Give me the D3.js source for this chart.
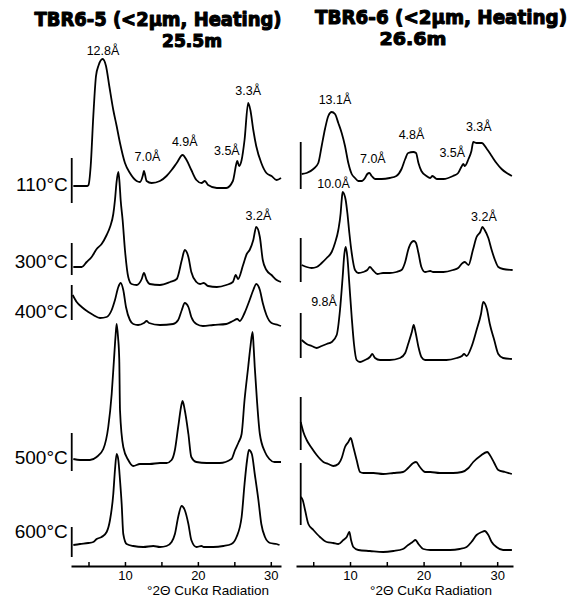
<!DOCTYPE html>
<html>
<head>
  <style>
    body { margin: 0; background: #fff; }
    svg text { font-family: "Liberation Sans", Arial, sans-serif; fill: #000; }
    .title { font-family: "DejaVu Sans", sans-serif; font-weight: bold; stroke: #000; stroke-width: 1.1; stroke-linejoin: round; }
  </style>
</head>
<body>
  <svg id="chart" width="578" height="605"></svg>
  <script src="https://d3js.org/d3.v7.min.js"></script>
  <script>
    // x ticks (degrees 2-theta) and their labels
    const tickValues = [5, 10, 15, 20, 25, 30];
    const tickLabels = ['', '10', '', '20', '', '30'];
    const axisTitle = '°2Θ CuKα Radiation';

    const tempLabels = ['110°C', '300°C', '400°C', '500°C', '600°C'];
    const leftTitle = ['TBR6-5 (<2µm, Heating)', '25.5m'];
    const rightTitle = ['TBR6-6 (<2µm, Heating)', '26.6m'];

    // stacking offset of each pattern (intensity units above the axis)
    const leftOffsets = [378, 279, 240, 99, 19];
    const rightOffsets = [385, 292, 204, 92, 14];

    // intensity scale bars drawn at the start of each pattern [low, high]
    const leftScaleBars = [[-15, 30], [12, 44], [6, 41], [-4, 34], [-10, 20]];
    const rightScaleBars = [[-8, 39], [-8, 36], [4, 49], [24, 77], [27, 89]];

    // TBR6-5 patterns, [2theta, intensity]
    const left110 = [[2.92,2],[4.84,2],[5.0,3],[5.3,22],[5.66,72],[6.03,112],[6.4,123],[6.94,129],[7.4,122],[7.85,102],[8.4,78],[8.86,62],[9.32,45],[10.0,25],[10.68,15],[11.6,7],[12.05,6],[12.47,13],[12.6,17],[12.97,7],[13.65,5],[14.8,7],[15.7,12],[16.4,18],[17.1,25],[17.9,33],[18.45,28],[19.1,18],[19.8,8],[20.5,5],[20.96,7],[21.4,3],[22.6,0],[23.9,0],[24.8,7],[25.3,25],[25.4,27],[25.66,22],[26.0,28],[26.4,48],[26.9,85],[27.2,78],[27.6,58],[28.0,42],[28.7,25],[29.4,15],[30.1,12],[30.8,8],[31.4,10]];
    const left300 = [[2.92,20],[4.07,20],[4.75,25],[5.43,30],[6.12,38],[6.8,43],[7.49,52],[7.95,60],[8.4,73],[8.63,87],[8.85,105],[9.09,115],[9.25,105],[9.41,87],[9.68,67],[10.0,37],[10.45,10],[10.9,3],[11.6,2],[12.3,8],[12.6,14],[12.97,7],[13.4,3],[14.8,2],[16.2,5],[17.1,8],[17.8,27],[18.2,37],[18.7,30],[19.1,15],[19.8,5],[20.3,3],[20.8,4],[21.4,1],[22.6,0],[23.9,2],[24.8,5],[25.2,12],[25.5,8],[26.2,22],[26.7,33],[27.1,37],[27.6,47],[28.0,60],[28.5,50],[28.9,27],[29.4,17],[30.1,12],[30.8,7],[31.4,5]];
    const left400 = [[2.83,31],[3.38,24],[4.07,19],[4.98,14],[5.66,11],[6.58,8],[7.49,9],[8.18,16],[8.63,26],[9.09,39],[9.41,43],[9.77,36],[10.14,19],[10.68,6],[11.14,2],[11.8,1],[12.6,3],[12.97,5],[13.3,3],[14.8,1],[16.6,2],[17.3,6],[17.8,16],[18.2,23],[18.7,19],[19.1,9],[19.8,2],[20.7,0],[22.1,1],[23.9,2],[24.8,5],[25.4,7],[25.75,5],[26.4,13],[27.1,26],[27.6,36],[28.0,42],[28.5,36],[28.9,23],[29.4,11],[30.1,3],[31.0,1],[31.4,0]];
    const left500 = [[2.92,8],[3.84,7],[5.2,7],[6.12,10],[7.03,18],[7.71,40],[8.18,73],[8.49,107],[8.7,130],[8.86,143],[9.05,130],[9.22,107],[9.32,57],[9.77,20],[10.45,7],[11.14,1],[12.05,3],[13.4,3],[14.8,4],[15.7,4],[16.4,7],[16.85,17],[17.3,40],[17.77,63],[17.9,66],[18.2,57],[18.7,33],[19.1,10],[19.8,5],[21.2,4],[23.0,4],[24.6,8],[25.1,17],[25.6,25],[26.0,33],[26.4,67],[26.9,100],[27.2,120],[27.5,135],[27.65,120],[27.8,100],[28.1,67],[28.5,33],[29.2,15],[29.8,8],[30.5,5],[31.4,5]];
    const left600 = [[2.92,2],[3.84,3],[4.97,4],[5.66,5],[6.12,8],[6.8,10],[7.49,15],[7.95,27],[8.4,53],[8.63,77],[8.86,93],[9.09,87],[9.32,67],[9.55,43],[9.77,13],[10.23,3],[11.14,1],[12.5,0],[13.9,1],[14.8,0],[15.7,1],[16.4,5],[16.85,13],[17.3,30],[17.77,41],[18.2,37],[18.7,23],[19.1,7],[19.8,0],[20.5,1],[20.8,0],[22.1,0],[23.5,1],[24.6,3],[25.3,10],[26.0,30],[26.4,63],[26.75,87],[27.0,97],[27.4,93],[27.8,73],[28.3,47],[28.7,23],[29.2,10],[29.9,4],[30.8,3],[31.2,2]];

    // TBR6-6 patterns, [2theta, intensity]
    const right110 = [[3.43,7],[4.11,8],[5.02,12],[5.69,18],[6.15,35],[6.6,52],[7.05,65],[7.51,69],[7.96,67],[8.41,58],[8.87,48],[9.32,35],[9.77,18],[10.23,7],[10.68,3],[11.13,0],[11.59,0],[12.04,3],[12.35,7],[12.63,8],[12.95,5],[13.4,2],[14.3,2],[15.4,3],[16.3,5],[17.0,12],[17.5,22],[17.9,28],[18.6,29],[18.97,28],[19.3,18],[19.7,10],[20.4,5],[20.9,3],[21.2,5],[21.8,2],[22.7,2],[24.0,5],[24.7,8],[25.2,15],[25.4,17],[25.6,15],[26.1,22],[26.5,30],[26.75,39],[27.2,38],[27.9,38],[28.6,32],[29.25,25],[29.9,18],[30.6,12],[31.3,8],[32.0,5]];
    const right300 = [[3.43,9],[4.11,7],[4.79,6],[5.47,7],[6.15,11],[6.83,16],[7.51,22],[7.96,31],[8.41,44],[8.73,61],[8.87,74],[9.0,82],[9.2,80],[9.41,74],[9.64,61],[9.91,41],[10.23,21],[10.68,4],[11.13,1],[11.8,2],[12.35,4],[12.7,7],[13.1,4],[13.7,0],[14.5,1],[15.4,1],[16.3,2],[17.0,4],[17.5,12],[17.9,24],[18.4,32],[18.7,33],[18.97,31],[19.3,21],[19.7,7],[20.2,2],[20.9,3],[21.3,2],[22.7,2],[24.0,4],[24.7,6],[25.3,11],[25.6,12],[26.1,9],[26.7,24],[27.2,37],[27.7,42],[28.0,47],[28.3,44],[28.8,36],[29.25,24],[29.7,14],[30.15,7],[30.8,5],[32.1,4]];
    const right400 = [[3.43,22],[4.11,18],[4.79,16],[5.47,14],[6.15,16],[6.83,18],[7.51,20],[8.19,27],[8.64,52],[9.0,85],[9.23,108],[9.41,115],[9.64,105],[9.91,78],[10.23,45],[10.54,18],[10.9,2],[11.36,0],[12.04,2],[12.7,5],[13.03,8],[13.4,4],[14.08,2],[15.4,2],[16.8,4],[17.5,9],[17.9,18],[18.4,30],[18.65,37],[18.9,30],[19.3,15],[19.7,5],[20.2,2],[21.1,2],[22.0,2],[23.1,2],[24.5,4],[25.2,6],[25.5,8],[25.85,6],[26.5,15],[27.2,32],[27.8,48],[28.1,60],[28.6,53],[29.0,38],[29.6,22],[30.15,8],[30.8,4],[32.0,3]];
    const right500 = [[3.3,52],[3.66,42],[4.11,34],[4.79,26],[5.47,19],[6.38,12],[7.05,10],[7.73,8],[8.41,10],[8.87,16],[9.32,27],[9.77,32],[10.09,36],[10.45,27],[10.9,14],[11.36,2],[11.8,1],[13.2,1],[14.5,0],[15.9,1],[17.2,2],[17.9,6],[18.6,11],[18.97,12],[19.5,7],[20.2,2],[20.9,2],[22.2,1],[24.0,1],[25.2,2],[26.1,6],[26.75,12],[27.7,18],[28.65,22],[29.0,19],[29.6,11],[30.15,4],[31.06,2],[32.0,0]];
    const right600 = [[3.3,55],[3.57,52],[3.89,42],[4.34,28],[5.02,22],[5.92,15],[6.83,10],[7.73,9],[8.41,8],[9.09,12],[9.55,15],[9.91,20],[10.14,12],[10.45,5],[11.13,2],[12.7,1],[14.5,0],[15.9,1],[17.2,3],[17.9,7],[18.5,10],[18.9,12],[19.3,8],[19.96,3],[20.9,2],[22.2,2],[23.6,2],[24.9,3],[25.85,5],[26.5,10],[27.2,17],[27.9,20],[28.3,21],[28.8,17],[29.25,10],[29.9,5],[30.8,2],[32.0,2]];

    // peak annotations: text, 2theta of label centre, label baseline (intensity units)
    const leftPeakText = ['12.8Å', '7.0Å', '4.9Å', '3.5Å', '3.3Å', '3.2Å'];
    const leftPeakTheta = [6.99, 13.08, 18.2, 23.97, 26.9, 28.3];
    const leftPeakLevel = [511, 405, 420, 411, 471, 346];
    const rightPeakText = ['13.1Å', '7.0Å', '4.8Å', '3.5Å', '3.3Å', '10.0Å', '3.2Å', '9.8Å'];
    const rightPeakTheta = [7.96, 13.1, 18.36, 23.9, 27.5, 7.76, 28.2, 6.47];
    const rightPeakLevel = [462, 403, 427, 409, 435, 378, 345, 260];

    // temperature label baselines (intensity units)
    const tempLevel = [375, 298, 248, 102, 28];

    const svg = d3.select('#chart');
    const axisY = 566;
    const y = d3.scaleLinear().domain([0, 566]).range([axisY, 0]);

    const panels = [
      { x: d3.scaleLinear().domain([2.6, 31.4]).range([71, 281]),
        series: [left110, left300, left400, left500, left600],
        offsets: leftOffsets, bars: leftScaleBars, barTheta: 2.7,
        peakText: leftPeakText, peakTheta: leftPeakTheta, peakLevel: leftPeakLevel,
        title: leftTitle, titlePos: [[158, 26, 247, 19], [192, 47, 60, 17]],
        axisTitleX: 147, showTemps: true },
      { x: d3.scaleLinear().domain([2.66, 32.15]).range([296, 513]),
        series: [right110, right300, right400, right500, right600],
        offsets: rightOffsets, bars: rightScaleBars, barTheta: 3.3,
        peakText: rightPeakText, peakTheta: rightPeakTheta, peakLevel: rightPeakLevel,
        title: rightTitle, titlePos: [[441, 24, 252, 19], [413, 45, 67, 18]],
        axisTitleX: 370, showTemps: false }
    ];

    panels.forEach(p => {
      const g = svg.append('g');

      // patterns
      p.series.forEach((s, i) => {
        const line = d3.line()
          .x(d => p.x(d[0]))
          .y(d => y(d[1] + p.offsets[i]))
          .curve(d3.curveMonotoneX);
        g.append('path')
          .attr('d', line(s))
          .attr('fill', 'none')
          .attr('stroke', '#000')
          .attr('stroke-width', 1.8)
          .attr('stroke-linejoin', 'round');

        const b = p.bars[i];
        g.append('line')
          .attr('x1', p.x(p.barTheta)).attr('x2', p.x(p.barTheta))
          .attr('y1', y(b[0] + p.offsets[i])).attr('y2', y(b[1] + p.offsets[i]))
          .attr('stroke', '#000').attr('stroke-width', 1.8);
      });

      // temperature labels
      if (p.showTemps) {
        g.selectAll('text.temp')
          .data(tempLabels)
          .join('text')
          .attr('class', 'temp')
          .attr('x', p.x(p.barTheta) - 4)
          .attr('y', (d, i) => y(tempLevel[i]))
          .attr('text-anchor', 'end')
          .attr('font-size', 19)
          .text(d => d);
      }

      // peak labels
      g.selectAll('text.peak')
        .data(p.peakText)
        .join('text')
        .attr('class', 'peak')
        .attr('x', (d, i) => p.x(p.peakTheta[i]))
        .attr('y', (d, i) => y(p.peakLevel[i]))
        .attr('text-anchor', 'middle')
        .attr('font-size', 12.5)
        .text(d => d);

      // x axis
      const axis = d3.axisBottom(p.x)
        .tickValues(tickValues)
        .tickFormat((d, i) => tickLabels[i])
        .tickSizeInner(-4)
        .tickSizeOuter(0)
        .tickPadding(5);
      const ax = g.append('g')
        .attr('transform', `translate(0,${axisY})`)
        .call(axis);
      ax.select('.domain').attr('stroke-width', 1.8);
      ax.selectAll('.tick line').attr('stroke-width', 1.5);
      ax.selectAll('.tick text')
        .attr('font-size', 13)
        .attr('font-family', '"Liberation Sans", Arial, sans-serif');

      g.append('text')
        .attr('x', p.axisTitleX)
        .attr('y', 595)
        .attr('font-size', 13.5)
        .text(axisTitle);

      // titles
      p.title.forEach((t, k) => {
        const [tx, ty, tw, fs] = p.titlePos[k];
        g.append('text')
          .attr('class', 'title')
          .attr('x', tx).attr('y', ty)
          .attr('text-anchor', 'middle')
          .attr('font-size', fs)
          .attr('textLength', tw)
          .attr('lengthAdjust', 'spacingAndGlyphs')
          .text(t);
      });
    });
  </script>
</body>
</html>
